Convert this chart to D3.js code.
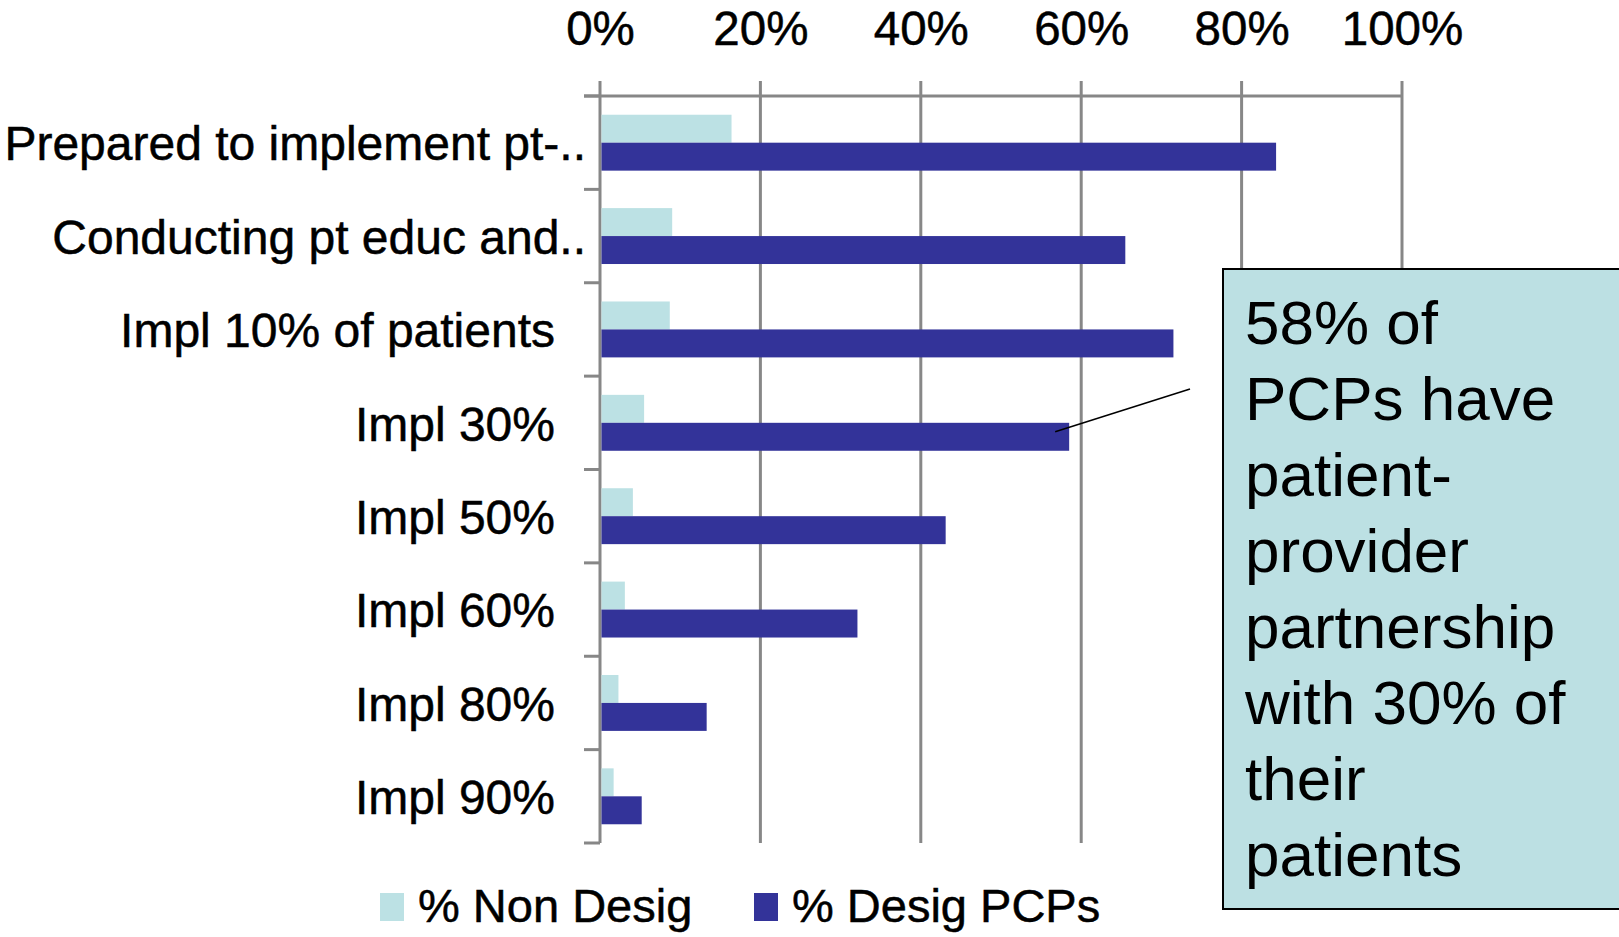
<!DOCTYPE html>
<html>
<head>
<meta charset="utf-8">
<script src="https://cdn.jsdelivr.net/npm/d3@7"></script>
<style>
  body { margin: 0; background: #fff; }
  text { font-family: "Liberation Sans", Arial, sans-serif; }
</style>
</head>
<body>
<div id="chart"></div>
<script>
// categories, top to bottom
var categories = ["Prepared to implement pt-..", "Conducting pt educ and..", "Impl 10% of patients",
                  "Impl 30%", "Impl 50%", "Impl 60%", "Impl 80%", "Impl 90%"];
var series = ["% Non Desig", "% Desig PCPs"];
var nonDesig = [0.164, 0.090, 0.087, 0.055, 0.041, 0.031, 0.023, 0.017];
var desig    = [0.843, 0.655, 0.715, 0.585, 0.431, 0.321, 0.133, 0.052];
var xTicks = [0, 0.2, 0.4, 0.6, 0.8, 1.0];
var noteLines = ["58% of", "PCPs have", "patient-", "provider", "partnership", "with 30% of", "their", "patients"];
var noteRow = "Impl 30%";

var colors = {"% Non Desig": "#bce1e4", "% Desig PCPs": "#333399"};

// set the dimensions and margins of the graph
var margin = {top: 96, right: 217, bottom: 94, left: 600},
    width = 1619 - margin.left - margin.right,
    height = 937 - margin.top - margin.bottom;

var svgRoot = d3.select("#chart")
  .append("svg")
    .attr("width", 1619)
    .attr("height", 937);

var svG = svgRoot.append("g")
    .attr("transform", "translate(" + margin.left + "," + margin.top + ")");

var data = categories.map(function(c, i) {
  return {cat: c, values: [{key: series[0], v: nonDesig[i]}, {key: series[1], v: desig[i]}]};
});

// scales
var x = d3.scaleLinear().domain([0, 1]).range([0, width]);
var y = d3.scaleBand().domain(categories).range([0, height]);
var y1 = d3.scaleBand().domain(series).range([0, y.bandwidth()]).paddingOuter(0.67);

var gray = "#878787";

// vertical gridlines (incl. left axis at 0%)
svG.selectAll(".grid")
  .data(xTicks)
  .enter()
  .append("line")
    .attr("x1", d => x(d)).attr("x2", d => x(d))
    .attr("y1", -15).attr("y2", height)
    .attr("stroke", gray)
    .attr("stroke-width", 3);

// top axis
var xAxis = svG.append("g")
  .call(d3.axisTop(x).tickValues(xTicks).tickFormat(d3.format(".0%")).tickSize(15).tickSizeOuter(0).tickPadding(36));
xAxis.select(".domain").remove();
xAxis.selectAll(".tick line").remove();
xAxis.selectAll("text")
  .attr("font-size", 47.5)
  .attr("font-family", "'Liberation Sans', Arial, sans-serif")
  .attr("fill", "#000")
  .attr("stroke", "#000").attr("stroke-width", 0.5);

// top axis line
svG.append("line")
  .attr("x1", -16).attr("x2", width)
  .attr("y1", 0).attr("y2", 0)
  .attr("stroke", gray).attr("stroke-width", 3);

// category ticks at band edges
var edges = categories.map(c => y(c)).concat([height]);
svG.selectAll(".ytick")
  .data(edges)
  .enter()
  .append("line")
    .attr("x1", -16).attr("x2", 0)
    .attr("y1", d => d).attr("y2", d => d)
    .attr("stroke", gray).attr("stroke-width", 3);

// category labels
svG.selectAll(".ylab")
  .data(categories)
  .enter()
  .append("text")
    .attr("x", d => d.endsWith("..") ? -14 : -45)
    .attr("y", d => y(d) + y.bandwidth() / 2)
    .attr("dy", "0.37em")
    .attr("text-anchor", "end")
    .attr("font-size", 48)
    .attr("fill", "#000")
    .attr("stroke", "#000").attr("stroke-width", 0.5)
    .text(d => d);

// bars
var groups = svG.selectAll(".grp")
  .data(data)
  .enter()
  .append("g")
    .attr("transform", d => "translate(0," + y(d.cat) + ")");

groups.selectAll("rect")
  .data(d => d.values)
  .enter()
  .append("rect")
    .attr("x", x(0) + 1.5)
    .attr("y", d => y1(d.key))
    .attr("width", d => x(d.v) - x(0) - 1.5)
    .attr("height", y1.bandwidth())
    .attr("fill", d => colors[d.key]);

// callout line to the Impl 30% bar
var rowIdx = categories.indexOf(noteRow);
var ax = x(desig[rowIdx]) - 14,
    ay = y(noteRow) + y1(series[1]) + 9;
svG.append("line")
  .attr("x1", ax).attr("y1", ay)
  .attr("x2", 590).attr("y2", 293)
  .attr("stroke", "#000").attr("stroke-width", 1.5);

// callout box
var note = svgRoot.append("g").attr("transform", "translate(1223,269)");
note.append("rect")
  .attr("width", 420).attr("height", 640)
  .attr("fill", "#bce0e3")
  .attr("stroke", "#000").attr("stroke-width", 2);
note.selectAll("text")
  .data(noteLines)
  .enter()
  .append("text")
    .attr("x", 22)
    .attr("y", (d, i) => 75 + i * 76)
    .attr("font-size", 62)
    .attr("fill", "#000")
    .text(d => d);

// legend
var legend = svgRoot.append("g").attr("transform", "translate(380,893)");
var legX = [0, 374];
series.forEach(function(s, i) {
  legend.append("rect")
    .attr("x", legX[i]).attr("y", 0)
    .attr("width", 24).attr("height", 28)
    .attr("fill", colors[s]);
  legend.append("text")
    .attr("x", legX[i] + 38).attr("y", 29)
    .attr("font-size", 47)
    .attr("fill", "#000")
    .attr("stroke", "#000").attr("stroke-width", 0.5)
    .text(s);
});
</script>
</body>
</html>
